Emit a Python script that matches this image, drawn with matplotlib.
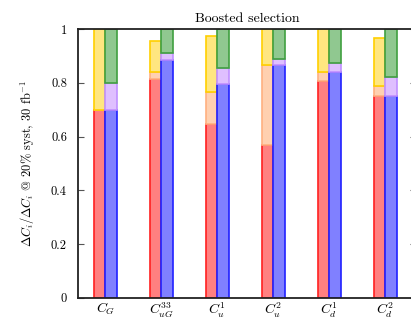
import numpy as np
import matplotlib.pyplot as plt

plt.rcParams["font.family"] = ["cmr10", "DejaVu Serif"]
plt.rcParams["mathtext.fontset"] = "cm"
plt.rcParams["axes.unicode_minus"] = False
plt.rcParams["axes.formatter.use_mathtext"] = True


# Data

labels = [r"$C_G$", r"$C_{uG}^{33}$", r"$C_u^1$", r"$C_u^2$", r"$C_d^1$", r"$C_d^2$"]

# left stack: red, then peach, then yellow (cumulative tops)
red_top = [0.70, 0.814, 0.647, 0.569, 0.808, 0.750]
peach_top = [0.70, 0.840, 0.765, 0.865, 0.840, 0.787]
yellow_top = [1.0, 0.954, 0.974, 1.0, 1.0, 0.967]

# right stack: blue, then lavender, then green (cumulative tops)
blue_top = [0.70, 0.885, 0.796, 0.865, 0.840, 0.750]
lavender_top = [0.80, 0.910, 0.855, 0.887, 0.874, 0.822]
green_top = [1.0, 1.0, 1.0, 1.0, 1.0, 1.0]


x = np.arange(len(labels))
width = 0.206

fig = plt.figure(figsize=(4.11, 3.2), dpi=100)
ax = fig.add_axes([0.190, 0.069, 0.822, 0.840])


def stack(xpos, tops, fills, edges):
    bottom = np.zeros(len(xpos))
    for top, fc, ec in zip(tops, fills, edges):
        top = np.asarray(top)
        ax.bar(xpos, top - bottom, width, bottom=bottom,
               facecolor=fc, edgecolor=ec, linewidth=1.2, zorder=2)
        bottom = top


stack(x - width / 2,
      [red_top, peach_top, yellow_top],
      ["#ff8080", "#ffd0b0", "#ffe680"],
      ["#ff2020", "#ffb080", "#ffd000"])

stack(x + width / 2,
      [blue_top, lavender_top, green_top],
      ["#8080ff", "#dfbfff", "#90c890"],
      ["#2020ff", "#c090ff", "#40a040"])

ax.set_xlim(-0.484, 5.55)
ax.set_ylim(0, 1)

ax.set_xticks(x)
ax.set_xticklabels(labels, fontsize=10)
ax.tick_params(axis="x", length=0, pad=2)

ax.set_yticks([0, 0.2, 0.4, 0.6, 0.8, 1.0])
ax.set_yticklabels(["0", "0.2", "0.4", "0.6", "0.8", "1"], fontsize=9)
ax.tick_params(axis="y", direction="in", length=4, width=0.8,
               right=True, left=True, pad=8, color="#555555")

for side in ["left", "bottom", "top", "right"]:
    ax.spines[side].set_linewidth(1.3)
    ax.spines[side].set_color("#222222")
    ax.spines[side].set_zorder(3)

ax.set_ylabel(r"$\Delta C_i/\Delta C_i$ @ 20% syst, 30 fb$^{-1}$", fontsize=9, labelpad=10)
ax.set_title("Boosted selection", fontsize=10, pad=5)

plt.savefig("out.png", dpi=100)
